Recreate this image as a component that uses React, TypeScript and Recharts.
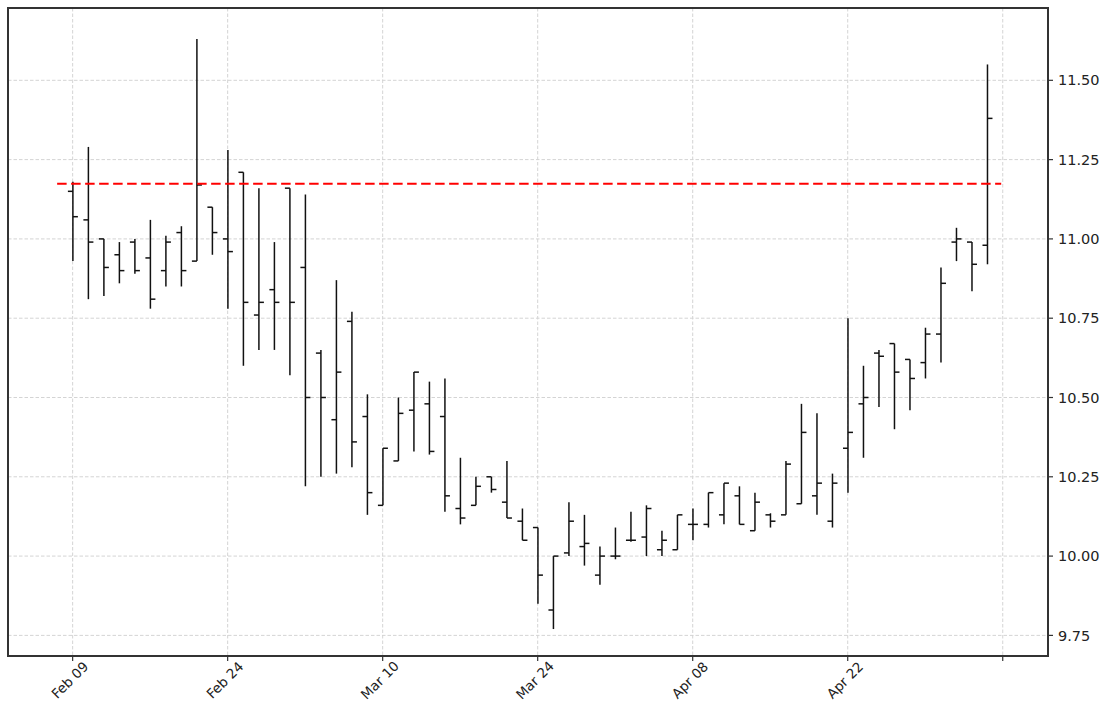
import React from 'react';
import {
  ComposedChart,
  Bar,
  XAxis,
  YAxis,
  CartesianGrid,
  ReferenceLine,
  ReferenceArea,
} from 'recharts';

// daily OHLC, one entry per trading day (index 0 = Feb 09)
const opens = [
  11.15, 11.06, 11.0, 10.95, 10.99, 10.94, 10.9, 11.02, 10.93, 11.1,
  11.0, 11.21, 10.76, 10.84, 11.16, 10.91, 10.64, 10.43, 10.74, 10.44,
  10.16, 10.3, 10.46, 10.48, 10.44, 10.15, 10.16, 10.25, 10.17, 10.11,
  10.09, 9.83, 10.01, 10.03, 9.94, 10.0, 10.05, 10.06, 10.02, 10.02,
  10.1, 10.1, 10.13, 10.19, 10.08, 10.13, 10.13, 10.165, 10.19, 10.11,
  10.34, 10.48, 10.64, 10.67, 10.62, 10.61, 10.7, 10.99, 10.99, 10.98,
];
const highs = [
  11.18, 11.29, 11.0, 10.99, 11.0, 11.06, 11.01, 11.04, 11.63, 11.1,
  11.28, 11.21, 11.16, 10.99, 11.16, 11.14, 10.65, 10.87, 10.77, 10.51,
  10.34, 10.5, 10.58, 10.55, 10.56, 10.31, 10.25, 10.25, 10.3, 10.15,
  10.09, 10.0, 10.17, 10.13, 10.03, 10.09, 10.14, 10.16, 10.08, 10.13,
  10.15, 10.2, 10.23, 10.22, 10.2, 10.135, 10.3, 10.48, 10.45, 10.26,
  10.75, 10.6, 10.65, 10.67, 10.62, 10.72, 10.91, 11.035, 10.99, 11.55,
];
const lows = [
  10.93, 10.81, 10.82, 10.86, 10.89, 10.78, 10.85, 10.85, 10.93, 10.95,
  10.78, 10.6, 10.65, 10.65, 10.57, 10.22, 10.25, 10.26, 10.28, 10.13,
  10.16, 10.3, 10.33, 10.32, 10.14, 10.1, 10.16, 10.2, 10.12, 10.05,
  9.85, 9.77, 10.0, 9.97, 9.91, 9.99, 10.045, 10.0, 10.0, 10.02,
  10.05, 10.09, 10.1, 10.1, 10.08, 10.09, 10.13, 10.165, 10.13, 10.09,
  10.2, 10.31, 10.47, 10.4, 10.46, 10.56, 10.61, 10.93, 10.835, 10.92,
];
const closes = [
  11.07, 10.99, 10.91, 10.9, 10.9, 10.81, 10.99, 10.9, 11.17, 11.02,
  10.96, 10.8, 10.8, 10.8, 10.8, 10.5, 10.5, 10.58, 10.36, 10.2,
  10.34, 10.45, 10.58, 10.33, 10.19, 10.12, 10.22, 10.21, 10.12, 10.05,
  9.94, 10.0, 10.11, 10.04, 10.0, 10.0, 10.05, 10.15, 10.05, 10.13,
  10.1, 10.2, 10.23, 10.1, 10.17, 10.11, 10.29, 10.39, 10.23, 10.23,
  10.39, 10.5, 10.63, 10.58, 10.56, 10.7, 10.86, 11.0, 10.92, 11.38,
];

const xTicks = [0, 10, 20, 30, 40, 50, 60];
const xLabels = ['Feb 09', 'Feb 24', 'Mar 10', 'Mar 24', 'Apr 08', 'Apr 22', ''];
const yTicks = [9.75, 10.0, 10.25, 10.5, 10.75, 11.0, 11.25, 11.5];
const refLevel = 11.174;

const xDomain = [-4.17, 62.92];
const yDomain = [9.685, 11.728];

const data = opens.map((o, i) => ({
  idx: i,
  open: o,
  high: highs[i],
  low: lows[i],
  close: closes[i],
}));

const FONT = '"DejaVu Sans", sans-serif';

const OhlcShape = (props: any) => {
  const { x, y, width, height, payload } = props;
  if (x == null || y == null || !payload) return null;
  const cx = x + width / 2;
  const top = Math.min(y, y + height);
  const bot = Math.max(y, y + height);
  const span = payload.high - payload.low;
  // linear y scale, so open/close sit proportionally between low and high
  const py = (v: number) => (span === 0 ? top : bot - ((v - payload.low) / span) * (bot - top));
  return (
    <g stroke="#111" strokeWidth={1.5}>
      <line x1={cx} x2={cx} y1={top} y2={bot} />
      <line x1={cx - 5} x2={cx} y1={py(payload.open)} y2={py(payload.open)} />
      <line x1={cx} x2={cx + 5} y1={py(payload.close)} y2={py(payload.close)} />
    </g>
  );
};

const XTick = (props: any) => {
  const { x, y, payload } = props;
  const i = xTicks.indexOf(payload.value);
  const label = i >= 0 ? xLabels[i] : '';
  return (
    <g transform={`translate(${x - 3},${y + 17})`}>
      <text
        transform="rotate(-45)"
        textAnchor="middle"
        dominantBaseline="central"
        fontSize={13.5}
        fontFamily={FONT}
        fill="#222"
      >
        {label}
      </text>
    </g>
  );
};

export default function App() {
  return (
    <div style={{ position: 'absolute', left: 0, top: 0, width: 1104, height: 702, background: '#fff' }}>
      <ComposedChart
        width={1104}
        height={702}
        data={data}
        margin={{ top: 8, right: 0, left: 8, bottom: 0 }}
      >
        <CartesianGrid stroke="#d4d4d4" strokeDasharray="3.5 2" />
        <XAxis
          dataKey="idx"
          type="number"
          domain={xDomain}
          allowDataOverflow
          ticks={xTicks}
          interval={0}
          height={46}
          axisLine={false}
          tickLine={{ stroke: '#333', strokeWidth: 1.2 }}
          tickSize={5}
          tick={<XTick />}
        />
        <YAxis
          orientation="right"
          type="number"
          domain={yDomain}
          allowDataOverflow
          ticks={yTicks}
          interval={0}
          width={56}
          axisLine={false}
          tickLine={{ stroke: '#333', strokeWidth: 1.2 }}
          tickSize={5}
          tickMargin={5}
          tickFormatter={(v: number) => v.toFixed(2)}
          tick={{ fontSize: 14.5, fontFamily: FONT, fill: '#222' }}
        />
        <ReferenceArea
          x1={xDomain[0]}
          x2={xDomain[1]}
          y1={yDomain[0]}
          y2={yDomain[1]}
          fill="none"
          stroke="#333"
          strokeWidth={2}
          ifOverflow="visible"
        />
        <Bar
          dataKey={(d: any) => [d.low, d.high]}
          barSize={6}
          shape={<OhlcShape />}
          isAnimationActive={false}
        />
        <ReferenceLine
          segment={[
            { x: -1, y: refLevel },
            { x: 59.9, y: refLevel },
          ]}
          stroke="#ff0000"
          strokeWidth={2}
          strokeDasharray="9.5 4.5"
        />
      </ComposedChart>
    </div>
  );
}
